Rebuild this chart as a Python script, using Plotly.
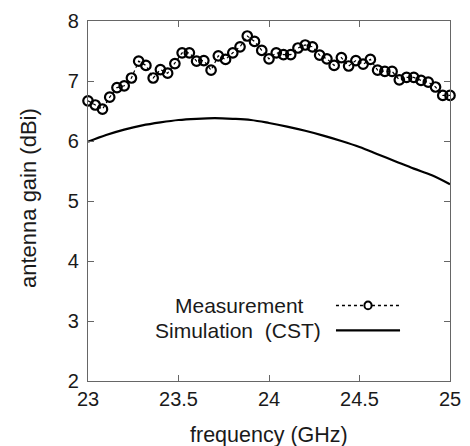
import plotly.graph_objects as go

# Measurement (0.04 GHz steps)
meas_freq = [23.00, 23.04, 23.08, 23.12, 23.16, 23.20, 23.24, 23.28, 23.32, 23.36,
             23.40, 23.44, 23.48, 23.52, 23.56, 23.60, 23.64, 23.68, 23.72, 23.76,
             23.80, 23.84, 23.88, 23.92, 23.96, 24.00, 24.04, 24.08, 24.12, 24.16,
             24.20, 24.24, 24.28, 24.32, 24.36, 24.40, 24.44, 24.48, 24.52, 24.56,
             24.60, 24.64, 24.68, 24.72, 24.76, 24.80, 24.84, 24.88, 24.92, 24.96,
             25.00]
meas_gain = [6.67, 6.60, 6.53, 6.73, 6.89, 6.92, 7.05, 7.33, 7.26, 7.05,
             7.19, 7.13, 7.29, 7.47, 7.47, 7.33, 7.34, 7.18, 7.42, 7.36,
             7.47, 7.57, 7.75, 7.66, 7.51, 7.37, 7.47, 7.44, 7.44, 7.55,
             7.60, 7.57, 7.43, 7.37, 7.26, 7.39, 7.25, 7.34, 7.28, 7.36,
             7.18, 7.16, 7.16, 7.02, 7.06, 7.06, 7.01, 6.98, 6.90, 6.76,
             6.76]

# Simulation (CST)
sim_freq = [23.0, 23.1, 23.2, 23.3, 23.4, 23.5, 23.6, 23.7, 23.8, 23.9, 24.0,
            24.1, 24.2, 24.3, 24.4, 24.5, 24.6, 24.7, 24.8, 24.9, 25.0]
sim_gain = [5.99, 6.10, 6.19, 6.26, 6.31, 6.35, 6.37, 6.38, 6.37, 6.35, 6.30,
            6.24, 6.17, 6.09, 6.00, 5.90, 5.78, 5.66, 5.54, 5.43, 5.28]

x_ticks = [23, 23.5, 24, 24.5, 25]
x_tick_labels = ["23", "23.5", "24", "24.5", "25"]
y_ticks = [2, 3, 4, 5, 6, 7, 8]

legend_labels = ["Measurement", "Simulation  (CST)"]
x_title = "frequency (GHz)"
y_title = "antenna gain (dBi)"

FONT = "Liberation Sans, Arial, Helvetica, sans-serif"
TXT = "#1a1a1a"
AX = "#666666"

fig = go.Figure()
fig.add_trace(go.Scatter(
    x=sim_freq, y=sim_gain, mode="lines",
    line=dict(color="black", width=2.2, shape="spline"),
    showlegend=False, hoverinfo="skip", cliponaxis=False))
fig.add_trace(go.Scatter(
    x=meas_freq, y=meas_gain, mode="lines+markers",
    line=dict(color="black", width=1.2, dash="dot"),
    marker=dict(symbol="circle-open", size=9.5, color="black",
                line=dict(width=2.2, color="black")),
    showlegend=False, hoverinfo="skip", cliponaxis=False))

# legend drawn manually (text left of sample, as in the reference)
x0s, x1s = 24.37, 24.724
xm = 24.547
y_m, y_s = 3.26, 2.845
fig.add_annotation(x=24.205, y=y_m, xref="x", yref="y", text=legend_labels[0],
                   showarrow=False, xanchor="right", yanchor="middle",
                   font=dict(family=FONT, size=21, color=TXT))
fig.add_annotation(x=24.300, y=y_s, xref="x", yref="y", text=legend_labels[1],
                   showarrow=False, xanchor="right", yanchor="middle",
                   font=dict(family=FONT, size=21, color=TXT))
fig.add_shape(type="line", x0=x0s, x1=x1s, y0=y_m, y1=y_m, xref="x", yref="y",
              line=dict(color="black", width=1.5, dash="dot"))
fig.add_shape(type="circle", x0=xm - 0.02, x1=xm + 0.02, y0=y_m - 0.065, y1=y_m + 0.065,
              xref="x", yref="y", fillcolor="white",
              line=dict(color="black", width=2))
fig.add_shape(type="line", x0=x0s, x1=x1s, y0=y_s, y1=y_s, xref="x", yref="y",
              line=dict(color="black", width=2.2))

# axis titles as annotations for exact placement
fig.add_annotation(x=0.5, y=0, xref="paper", yref="paper", yshift=-54,
                   text=x_title, showarrow=False, xanchor="center", yanchor="middle",
                   borderpad=0,
                   font=dict(family=FONT, size=21.5, color=TXT))
fig.add_annotation(x=0, y=0.5, xref="paper", yref="paper", xshift=-60, yshift=3,
                   text=y_title, showarrow=False, xanchor="center", yanchor="middle",
                   textangle=-90, font=dict(family=FONT, size=22, color=TXT))

axis_common = dict(
    showline=True, linecolor=AX, linewidth=1.2, mirror="ticks",
    ticks="inside", ticklen=6, tickcolor=AX, tickwidth=1.2,
    showgrid=False, zeroline=False, automargin=False,
    tickfont=dict(family=FONT, size=20, color=TXT),
)
fig.update_xaxes(range=[23, 25], tickvals=x_ticks, ticktext=x_tick_labels,
                 **axis_common)
fig.update_yaxes(range=[2, 8], tickvals=y_ticks, ticklabelstandoff=4,
                 **axis_common)

fig.update_layout(width=470, height=446,
                  margin=dict(l=88, r=20, t=21, b=65, pad=0),
                  paper_bgcolor="white", plot_bgcolor="white",
                  font=dict(family=FONT, color=TXT))

fig.write_html("out.html", config={"displayModeBar": False},
               post_script="document.body.style.margin='0';document.body.style.padding='0';")
